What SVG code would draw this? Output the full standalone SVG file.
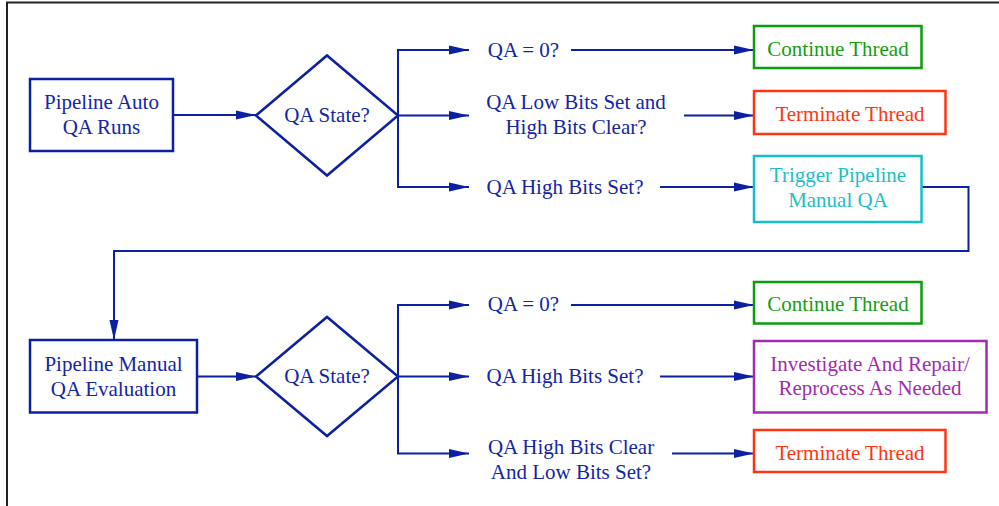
<svg xmlns="http://www.w3.org/2000/svg" width="999" height="506" viewBox="0 0 999 506">
  <style>
    text { font-family: "Liberation Serif", "Times New Roman", serif; font-size: 21px; text-anchor: middle; }
    .blue { fill: #1326a6; }
    .green { fill: #12a012; }
    .red { fill: #ff3512; }
    .cyan { fill: #1cc0c6; }
    .purple { fill: #a02cae; }
    .box { fill: #ffffff; stroke-width: 2.5; }
    .b-blue { stroke: #0c20a2; }
    .b-green { stroke: #0a9c0a; }
    .b-red { stroke: #ff3512; }
    .b-cyan { stroke: #14c0c8; }
    .b-purple { stroke: #a02cae; }
    .conn { fill: none; stroke: #0c20a2; stroke-width: 2; }
    .frame { fill: none; stroke: #222222; stroke-width: 2; }
  </style>
  <defs>
    <marker id="arrow" markerUnits="userSpaceOnUse" markerWidth="20" markerHeight="10" refX="20" refY="5" orient="auto">
      <path d="M0,0.5 L20,5 L0,9.5 z" fill="#0c20a2"/>
    </marker>
  </defs>

  <rect width="999" height="506" fill="#ffffff"/>
  <!-- page frame (top and left edges) -->
  <path class="frame" d="M7,506 V2.5 H999"/>

  <!-- connectors -->
  <g id="connectors">
    <line class="conn" x1="173" y1="115" x2="256" y2="115" marker-end="url(#arrow)"/>
    <path class="conn" d="M398,115.5 V50 H469" marker-end="url(#arrow)"/>
    <line class="conn" x1="398" y1="115.5" x2="469" y2="115.5" marker-end="url(#arrow)"/>
    <path class="conn" d="M398,115.5 V187 H469" marker-end="url(#arrow)"/>
    <line class="conn" x1="571" y1="50" x2="754" y2="50" marker-end="url(#arrow)"/>
    <line class="conn" x1="684" y1="115.5" x2="754" y2="115.5" marker-end="url(#arrow)"/>
    <line class="conn" x1="660" y1="187" x2="754" y2="187" marker-end="url(#arrow)"/>
    <path class="conn" d="M921.5,187 H968.5 V251 H114 V340" marker-end="url(#arrow)"/>
    <line class="conn" x1="197" y1="376.5" x2="256" y2="376.5" marker-end="url(#arrow)"/>
    <path class="conn" d="M398,376.5 V305 H469" marker-end="url(#arrow)"/>
    <line class="conn" x1="398" y1="376.5" x2="469" y2="376.5" marker-end="url(#arrow)"/>
    <path class="conn" d="M398,376.5 V453.5 H469" marker-end="url(#arrow)"/>
    <line class="conn" x1="571" y1="305" x2="754" y2="305" marker-end="url(#arrow)"/>
    <line class="conn" x1="660" y1="376.5" x2="754" y2="376.5" marker-end="url(#arrow)"/>
    <line class="conn" x1="672" y1="453.5" x2="754" y2="453.5" marker-end="url(#arrow)"/>
  </g>

  <!-- first pass: automatic QA -->
  <g id="auto-qa-runs">
    <rect class="box b-blue" x="30" y="79" width="143" height="72"/>
    <text class="blue" x="101.5" y="109">Pipeline Auto</text>
    <text class="blue" x="101.5" y="133.5">QA Runs</text>
  </g>
  <g id="auto-qa-state">
    <polygon class="box b-blue" points="256,115.5 327,55.5 398,115.5 327,175.5"/>
    <text class="blue" x="327" y="122">QA State?</text>
  </g>
  <g id="auto-qa-zero">
    <text class="blue" x="523.5" y="57">QA = 0?</text>
  </g>
  <g id="auto-low-set">
    <text class="blue" x="576" y="109">QA Low Bits Set and</text>
    <text class="blue" x="576" y="133.5">High Bits Clear?</text>
  </g>
  <g id="auto-high-set">
    <text class="blue" x="565" y="193.5">QA High Bits Set?</text>
  </g>
  <g id="auto-continue">
    <rect class="box b-green" x="754" y="26" width="167.5" height="42"/>
    <text class="green" x="838" y="55.5">Continue Thread</text>
  </g>
  <g id="auto-terminate">
    <rect class="box b-red" x="754" y="91" width="191.5" height="43"/>
    <text class="red" x="850" y="121">Terminate Thread</text>
  </g>
  <g id="trigger-manual">
    <rect class="box b-cyan" x="754" y="156" width="167.5" height="66"/>
    <text class="cyan" x="838" y="182">Trigger Pipeline</text>
    <text class="cyan" x="838" y="206.5">Manual QA</text>
  </g>

  <!-- second pass: manual QA -->
  <g id="manual-qa-eval">
    <rect class="box b-blue" x="30" y="340" width="167" height="72.5"/>
    <text class="blue" x="113.5" y="370.5">Pipeline Manual</text>
    <text class="blue" x="113.5" y="395.5">QA Evaluation</text>
  </g>
  <g id="manual-qa-state">
    <polygon class="box b-blue" points="256,376.5 327,317 398,376.5 327,436"/>
    <text class="blue" x="327" y="383">QA State?</text>
  </g>
  <g id="manual-qa-zero">
    <text class="blue" x="523.5" y="311">QA = 0?</text>
  </g>
  <g id="manual-high-set">
    <text class="blue" x="565" y="383">QA High Bits Set?</text>
  </g>
  <g id="manual-high-clear">
    <text class="blue" x="571" y="454">QA High Bits Clear</text>
    <text class="blue" x="571" y="478.5">And Low Bits Set?</text>
  </g>
  <g id="manual-continue">
    <rect class="box b-green" x="754" y="282" width="167.5" height="41.5"/>
    <text class="green" x="838" y="311">Continue Thread</text>
  </g>
  <g id="manual-investigate">
    <rect class="box b-purple" x="754" y="341" width="232.5" height="71.5"/>
    <text class="purple" x="870" y="370.5">Investigate And Repair/</text>
    <text class="purple" x="870" y="395">Reprocess As Needed</text>
  </g>
  <g id="manual-terminate">
    <rect class="box b-red" x="754" y="430" width="191.5" height="42"/>
    <text class="red" x="850" y="460">Terminate Thread</text>
  </g>
</svg>
